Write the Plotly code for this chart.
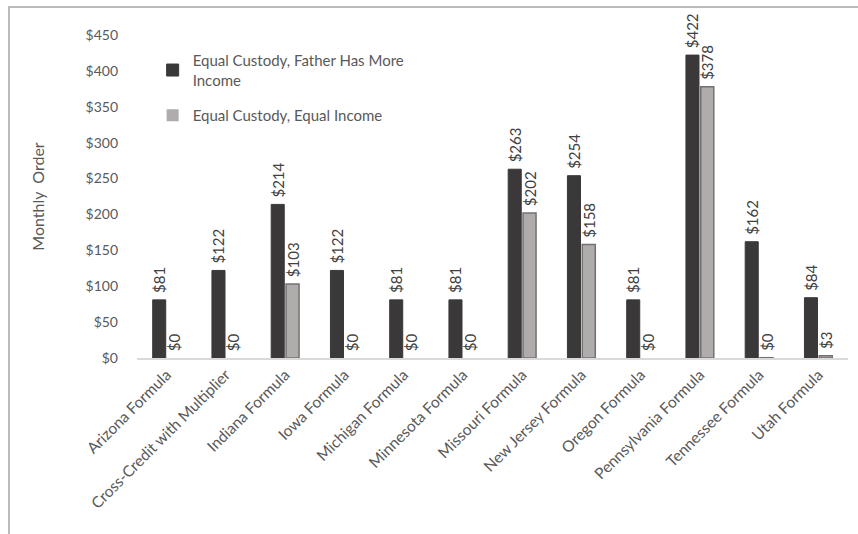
import plotly.graph_objects as go

categories = ["Arizona Formula", "Cross-Credit with Multiplier", "Indiana Formula", "Iowa Formula",
              "Michigan Formula", "Minnesota Formula", "Missouri Formula", "New Jersey Formula",
              "Oregon Formula", "Pennsylvania Formula", "Tennessee Formula", "Utah Formula"]
father_more = [81, 122, 214, 122, 81, 81, 263, 254, 81, 422, 162, 84]
equal_income = [0, 0, 103, 0, 0, 0, 202, 158, 0, 378, 0.4, 3]
series_names = ["Equal Custody, Father Has More<br>Income", "Equal Custody, Equal Income"]
y_ticks = [0, 50, 100, 150, 200, 250, 300, 350, 400, 450]

FONT = "Lato"
TXT = "#595959"
LABEL_TPL = "\u00a0$%{y:.0f}"

fig = go.Figure()
fig.add_trace(go.Bar(
    x=categories, y=father_more, name=series_names[0], legendgroup="a",
    marker=dict(color="#3a3839", line=dict(color="#3a3839", width=1)),
    texttemplate=LABEL_TPL, textposition="outside", textangle=-90,
    constraintext="none",
    textfont=dict(family=FONT, size=15, color="#404040"), cliponaxis=False,
))
fig.add_trace(go.Bar(
    x=categories, y=equal_income, name=series_names[1], legendgroup="b",
    marker=dict(color="#b0acab",
                line=dict(color="#767171", width=[0 if v == 0 else 1.5 for v in equal_income])),
    texttemplate=LABEL_TPL, textposition="outside", textangle=-90,
    constraintext="none",
    textfont=dict(family=FONT, size=15, color="#404040"), cliponaxis=False,
))

fig.update_layout(
    width=858, height=534,
    margin=dict(l=137, r=10, t=35, b=176),
    paper_bgcolor="white", plot_bgcolor="white",
    barmode="group", bargap=0.5, bargroupgap=0.12,
    font=dict(family=FONT, color=TXT, size=14),
    legend=dict(x=0.022, y=0.972, xanchor="left", yanchor="top",
                bgcolor="rgba(0,0,0,0)", font=dict(family=FONT, size=15, color=TXT),
                tracegroupgap=13),
    xaxis=dict(tickangle=-45, tickfont=dict(family=FONT, size=15.5, color=TXT),
               showline=True, linecolor="#d9d9d9", linewidth=1.5, ticks="",
               showgrid=False),
    yaxis=dict(range=[0, 450], tickvals=y_ticks,
               ticktext=["$" + str(v) for v in y_ticks],
               tickfont=dict(family=FONT, size=14, color=TXT),
               showgrid=False, zeroline=False, showline=False, ticks="",
               ticklabelstandoff=18,
               title=dict(text="Monthly  Order", font=dict(family=FONT, size=16, color=TXT),
                          standoff=36)),
    shapes=[dict(type="rect", xref="paper", yref="paper",
                 x0=(9 - 137) / 711, x1=1.1, y0=-1, y1=(358 - 7) / 323,
                 line=dict(color="#a6a6a6", width=1.5), fillcolor="rgba(0,0,0,0)", layer="below")],
)

fig.write_html("out.html", config={"displayModeBar": False},
               post_script="document.body.style.margin='0';")
